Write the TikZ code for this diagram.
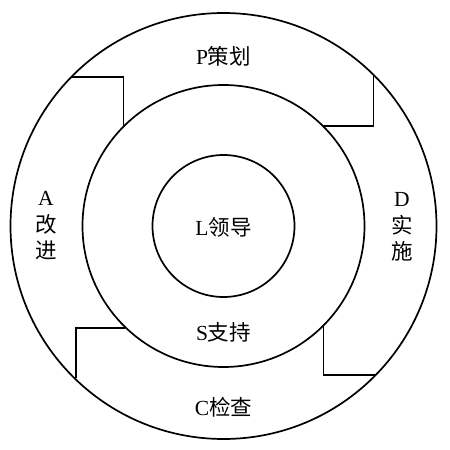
\documentclass[tikz,border=0pt]{standalone}
\usepackage{fontspec}
\setmainfont{Liberation Serif}
\newfontfamily\cjk{Noto Sans CJK SC}
\begin{document}
\begin{tikzpicture}[x=1pt,y=-1pt,
  ring/.style={draw=black,line width=1.7pt},
  stepline/.style={draw=black,line width=1.7pt},
  lbl/.style={font=\fontsize{21.5}{26.5}\selectfont,align=center,inner sep=0pt}]
\useasboundingbox (0,0) rectangle (450,450);
\coordinate (c) at (223.5,226);
\draw[ring] (c) circle[radius=213];
\draw[ring] (c) circle[radius=141];
\draw[ring] (c) circle[radius=71];
% top-left step
\coordinate (tlo) at (71.3,77);
\coordinate (tlc) at (123.5,77);
\coordinate (tlm) at (123.5,126.6);
\draw[stepline] (tlo) -- (tlc) -- (tlm);
% top-right step
\coordinate (tro) at (373.5,73.8);
\coordinate (trc) at (373.5,126);
\coordinate (trm) at (322.9,126);
\draw[stepline] (tro) -- (trc) -- (trm);
% bottom-right step
\coordinate (brm) at (323.5,325.4);
\coordinate (brc) at (323.5,375);
\coordinate (bro) at (375.7,375);
\draw[stepline] (brm) -- (brc) -- (bro);
% bottom-left step
\coordinate (blo) at (76,378.2);
\coordinate (blc) at (76,328);
\coordinate (blm) at (125.2,328);
\draw[stepline] (blo) -- (blc) -- (blm);
% labels
\node[lbl] (p) at (223.5,56) {P{\cjk 策划}};
\node[lbl] (d) at (402,227) {D\\{\cjk 实}\\{\cjk 施}};
\node[lbl] (a) at (46,226) {A\\{\cjk 改}\\{\cjk 进}};
\node[lbl] (l) at (223.5,227) {L{\cjk 领导}};
\node[lbl] (s) at (223.5,332) {S{\cjk 支持}};
\node[lbl] (ck) at (223.5,407) {C{\cjk 检查}};
\end{tikzpicture}
\end{document}
